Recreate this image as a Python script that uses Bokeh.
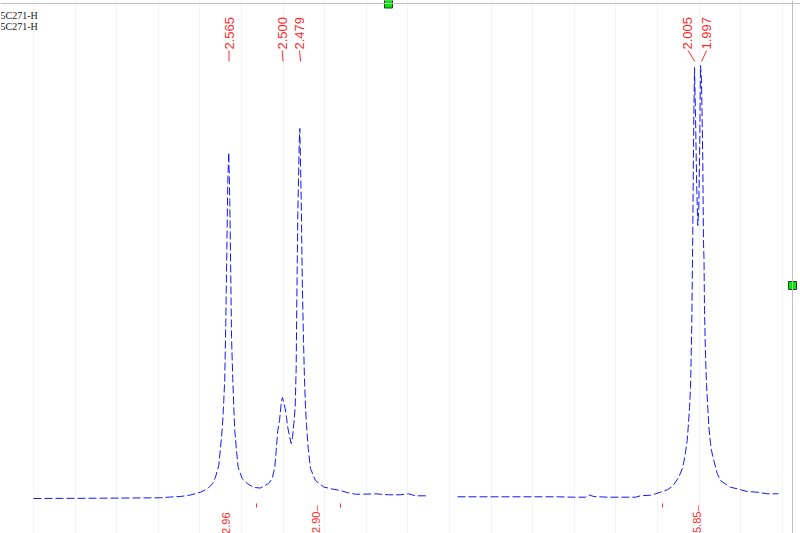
import math
from bokeh.plotting import figure
from bokeh.models import Range1d, FixedTicker, Span, Label
from bokeh.core.properties import value
from bokeh.embed import file_html
from bokeh.resources import INLINE

# ---------------- data ----------------
sample_names = ["5C271-H", "5C271-H"]

ppm = [2.8000, 2.7195, 2.6474, 2.6353, 2.6233, 2.6113, 2.5993, 2.5909, 2.5849, 2.5813,
       2.5773, 2.5752, 2.5740, 2.5725, 2.5713, 2.5701, 2.5689, 2.5677, 2.5665, 2.5653,
       2.5641, 2.5629, 2.5620, 2.5605, 2.5593, 2.5581, 2.5560, 2.5540, 2.5492, 2.5431,
       2.5352, 2.5272, 2.5175, 2.5131, 2.5100, 2.5083, 2.5064, 2.5043, 2.5019, 2.5007,
       2.4975, 2.4959, 2.4944, 2.4919, 2.4903, 2.4887, 2.4871, 2.4855, 2.4843, 2.4835,
       2.4823, 2.4806, 2.4799, 2.4782, 2.4770, 2.4755, 2.4743, 2.4731, 2.4719, 2.4698,
       2.4671, 2.4611, 2.4511, 2.4410, 2.4310, 2.4230, 2.4130, 2.4034, 2.3889, 2.3733,
       2.3589, 2.3493, 2.3409, 2.3264, float("nan"), 2.2904, 2.1990, 2.1702, 2.1510, 2.1365,
       2.1326, 2.1266, 2.1101, 2.0764, 2.0704, 2.0584, 2.0524, 2.0464, 2.0383, 2.0323,
       2.0284, 2.0244, 2.0203, 2.0184, 2.0163, 2.0143, 2.0131, 2.0115, 2.0103, 2.0100,
       2.0088, 2.0076, 2.0064, 2.0055, 2.0043, 2.0028, 2.0016, 2.0004, 1.9992, 1.9983,
       1.9971, 1.9956, 1.9947, 1.9941, 1.9935, 1.9923, 1.9911, 1.9895, 1.9883, 1.9863,
       1.9851, 1.9823, 1.9782, 1.9743, 1.9683, 1.9623, 1.9542, 1.9422, 1.9302, 1.9182,
       1.9046]

intensity = [0, 0.3, 0.7, 1.5, 2, 3.5, 6.3, 9.7, 14.7, 21.3,
             33, 51.3, 61.3, 78, 98, 120, 175, 244, 317, 346,
             298, 224, 162, 120, 92, 68, 48, 31, 20, 15,
             11, 10.5, 15, 20, 31, 48, 68, 78, 98, 101,
             90, 81, 71, 61, 55, 61, 75, 91, 130, 198,
             285, 356, 370, 298, 220, 158, 120, 92, 74, 50,
             30, 18, 11.5, 9.5, 8, 6, 4.3, 4.3, 4.7, 3.7,
             3.7, 4.7, 2.7, 2.7, float("nan"), 1.7, 1.7, 1.7, 1.3, 1.3,
             3.7, 2, 1.3, 1.3, 2.7, 3.3, 4.7, 6.3, 8.7, 12,
             16.3, 21.3, 29.7, 36.3, 46.3, 58, 71, 91, 111, 123,
             173, 266, 379, 431, 382, 310, 273, 290, 356, 433,
             418, 340, 255, 240, 188, 143, 114, 90, 72, 55,
             48, 38, 25, 18, 14.5, 11.3, 9.7, 7, 6.3, 4.7,
             4.7]

peak_ppm = [2.565, 2.500, 2.479, 2.005, 1.997]
peak_labels = ["2.565", "2.500", "2.479", "2.005", "1.997"]

integral_ppm = [2.569, 2.461, 2.002]
integral_values = ["2.96", "2.90", "5.85"]
integral_limits = [2.532, 2.431, 2.044]

# ---------------- layout ----------------
W, H = 800, 533
PX_PER_PPM = 832.0
X_START = 2.80 + 33 / PX_PER_PPM
X_END = X_START - W / PX_PER_PPM
Y_END = 498.0
Y_START = Y_END - H


def wy(row):
    """picture row -> intensity value"""
    return Y_END - row


def wx(col):
    """picture column -> ppm value"""
    return X_START - col / PX_PER_PPM


RED = "#ff2a2a"

p = figure(width=W, height=H, x_range=Range1d(X_START, X_END),
           y_range=Range1d(Y_START, Y_END), output_backend="svg",
           toolbar_location=None, min_border=0)
p.xaxis.visible = False
p.yaxis.visible = False
p.outline_line_color = None
p.ygrid.visible = False
p.xgrid.ticker = FixedTicker(ticks=[round(2.80 - 0.05 * i, 2) for i in range(19)])
p.xgrid.grid_line_color = "#f4f4f4"
p.xgrid.grid_line_width = 1

# spectrum
p.line(ppm, intensity, line_color="#1515ff", line_width=1, line_dash="8 3")

# peak labels with leaders
label_dx_px = [0, -1, -1, -7, 5]
label_x = [pp - dx / PX_PER_PPM for pp, dx in zip(peak_ppm, label_dx_px)]
p.text(x=label_x, y=[wy(49)] * len(peak_ppm), text=peak_labels, angle=math.pi / 2,
       text_align="left", text_baseline="middle", text_color=RED,
       text_font=value("Liberation Sans"), text_font_size="13px")
p.segment(x0=label_x, y0=[wy(50)] * len(peak_ppm), x1=peak_ppm, y1=[wy(61)] * len(peak_ppm),
          line_color=RED, line_width=1)

# integrals
has_leader = [False, True, True]
top_px = [512, 505, 505]
integral_text = [v + ("\u2013" if lead else "") for v, lead in zip(integral_values, has_leader)]
p.text(x=integral_ppm, y=[wy(t) for t in top_px], text=integral_text, angle=math.pi / 2,
       text_align="right", text_baseline="middle", text_color=RED,
       text_font=value("Liberation Sans"), text_font_size="11px")
p.segment(x0=integral_limits, y0=[wy(503)] * 3, x1=integral_limits, y1=[wy(507)] * 3,
          line_color=RED, line_width=1)

# sample names
for i, name in enumerate(sample_names):
    p.add_layout(Label(x=X_START, y=wy(15 + 11 * i), x_offset=0, text=name,
                       text_font="Liberation Serif", text_font_size="10px",
                       text_color="#202020", text_baseline="middle"))

# frame lines and handles
p.add_layout(Span(location=wy(3), dimension="width", line_color="#c0c0c0", line_width=1))
p.add_layout(Span(location=wx(792), dimension="height", line_color="#c0c0c0", line_width=1))
p.scatter(x=[wx(388), wx(792)], y=[wy(3.5), wy(285)], marker="square", size=8,
          fill_color="#00ee00", line_color="#333333", line_width=1)

open("out.html", "w").write(file_html(p, INLINE))
